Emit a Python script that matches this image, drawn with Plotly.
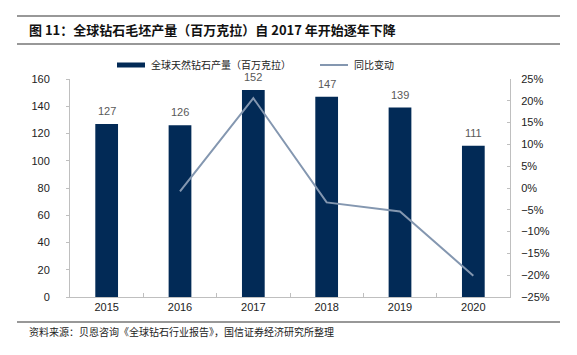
import plotly.graph_objects as go

years = ["2015", "2016", "2017", "2018", "2019", "2020"]
production = [127, 126, 152, 147, 139, 111]
yoy_years = ["2016", "2017", "2018", "2019", "2020"]
yoy_pct = [-0.8, 20.6, -3.3, -5.4, -20.1]

bar_name = "全球天然钻石产量（百万克拉）"
line_name = "同比变动"
title_text = "图 11：全球钻石毛坯产量（百万克拉）自 2017 年开始逐年下降"
source_text = "资料来源：贝恩咨询《全球钻石行业报告》，国信证券经济研究所整理"

BAR_COLOR = "#022a56"
LINE_COLOR = "#8497b0"
AXIS_COLOR = "#bfbfbf"
LATIN = "Liberation Sans, Arial, sans-serif"
CJK = "Noto Sans CJK SC, sans-serif"

# page body has an 8px default margin; the figure is sized so it ends at the window edge
OFF = 8
PAGE_W, PAGE_H = 577, 355
L, R, T, B = 70, 510, 79, 297  # plot area in window pixels
W, H = R - L, B - T


def px(x):
    return (x - L) / W


def py(y):
    return (B - y) / H


fig = go.Figure()
fig.add_trace(go.Bar(x=years, y=production, marker_color=BAR_COLOR,
                     marker_line_width=0, name=bar_name, showlegend=False,
                     hoverinfo="skip"))
fig.add_trace(go.Scatter(x=yoy_years, y=yoy_pct, yaxis="y2", mode="lines",
                         line=dict(color=LINE_COLOR, width=2), name=line_name,
                         showlegend=False, hoverinfo="skip"))

annotations = []
for i, v in enumerate(production):
    annotations.append(dict(x=i, y=v, xref="x", yref="y", text=str(v),
                            showarrow=False, yanchor="bottom", yshift=5,
                            font=dict(family=LATIN, size=11, color="#595959")))

annotations += [
    dict(x=px(27), y=py(30), xref="paper", yref="paper", text="<b>" + title_text + "</b>",
         showarrow=False, xanchor="left", yanchor="middle",
         font=dict(family=CJK, size=13, color="#111111")),
    dict(x=px(149), y=py(64.5), xref="paper", yref="paper", text=bar_name,
         showarrow=False, xanchor="left", yanchor="middle",
         font=dict(family=CJK, size=10, color="#222222")),
    dict(x=px(352), y=py(64.5), xref="paper", yref="paper", text=line_name,
         showarrow=False, xanchor="left", yanchor="middle",
         font=dict(family=CJK, size=10, color="#222222")),
    dict(x=px(27), y=py(331), xref="paper", yref="paper", text=source_text,
         showarrow=False, xanchor="left", yanchor="middle",
         font=dict(family=CJK, size=10, color="#222222")),
]

shapes = [
    dict(type="line", xref="paper", yref="paper", x0=px(17), x1=px(560), y0=py(16), y1=py(16),
         line=dict(color="#333333", width=1.2)),
    dict(type="line", xref="paper", yref="paper", x0=px(17), x1=px(560), y0=py(44), y1=py(44),
         line=dict(color="#333333", width=1.2)),
    dict(type="line", xref="paper", yref="paper", x0=px(17), x1=px(560), y0=py(322), y1=py(322),
         line=dict(color="#333333", width=1.2)),
    dict(type="rect", xref="paper", yref="paper", x0=px(117), x1=px(145), y0=py(67.5), y1=py(62.5),
         fillcolor=BAR_COLOR, line=dict(width=0)),
    dict(type="line", xref="paper", yref="paper", x0=px(320), x1=px(348), y0=py(65), y1=py(65),
         line=dict(color=LINE_COLOR, width=2)),
]

fig.update_layout(
    width=PAGE_W - OFF, height=PAGE_H - OFF,
    margin=dict(l=L - OFF, r=PAGE_W - R, t=T - OFF, b=PAGE_H - B, pad=0),
    paper_bgcolor="white", plot_bgcolor="white",
    bargap=0.69,
    showlegend=False,
    annotations=annotations,
    shapes=shapes,
    xaxis=dict(type="category", range=[-0.5, len(years) - 0.5],
               showline=True, linecolor=AXIS_COLOR, linewidth=1,
               ticks="inside", tickson="boundaries", ticklen=4, tickcolor=AXIS_COLOR,
               tickfont=dict(family=LATIN, size=11, color="#222222"),
               showgrid=False, zeroline=False),
    yaxis=dict(range=[0, 160], dtick=20, showline=True, linecolor=AXIS_COLOR,
               ticks="outside", ticklen=3, tickcolor=AXIS_COLOR,
               ticklabelstandoff=14,
               tickfont=dict(family=LATIN, size=11, color="#222222"),
               showgrid=False, zeroline=False),
    yaxis2=dict(range=[-25, 25], dtick=5, overlaying="y", side="right",
                ticksuffix="%", showline=True, linecolor=AXIS_COLOR,
                ticks="inside", ticklen=3, tickcolor=AXIS_COLOR,
                ticklabelstandoff=8,
                tickfont=dict(family=LATIN, size=11, color="#222222"),
                showgrid=False, zeroline=False),
)

fig.write_html("out.html")
